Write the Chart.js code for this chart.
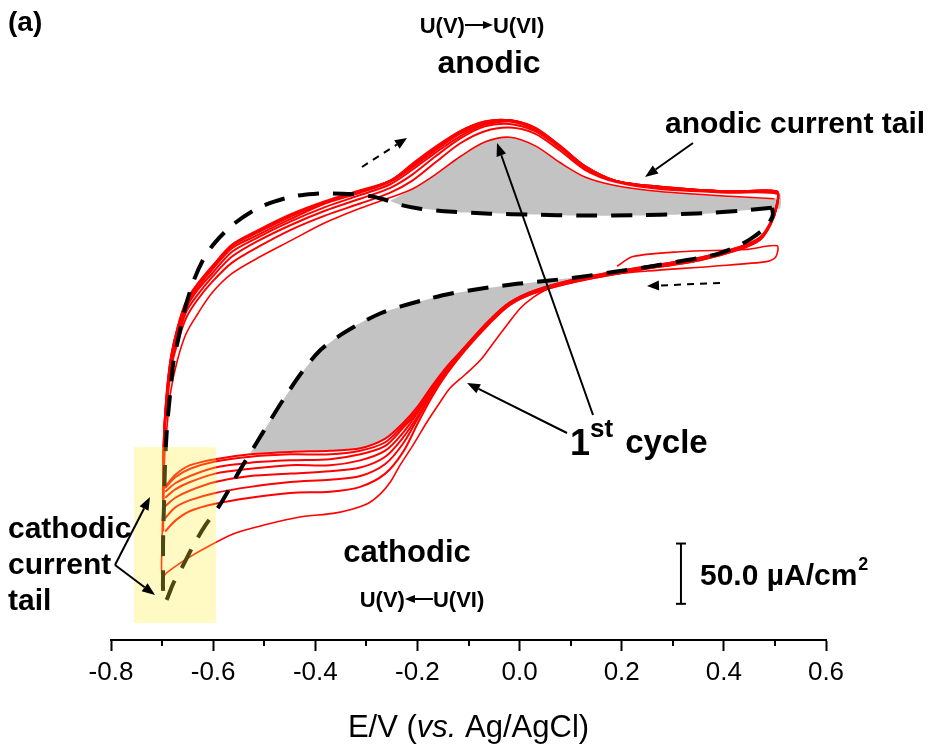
<!DOCTYPE html>
<html>
<head>
<meta charset="utf-8">
<script src="https://cdn.jsdelivr.net/npm/chart.js@4.4.0/dist/chart.umd.min.js"></script>
<style>
  html, body { margin: 0; padding: 0; background: #fff; }
  canvas { display: block; }
</style>
</head>
<body>
<canvas id="cv" width="936" height="746"></canvas>
<script>
// x axis ticks (E/V vs. Ag/AgCl)
const xTicks = [-0.8, -0.6, -0.4, -0.2, 0.0, 0.2, 0.4, 0.6];
const xMinorTicks = [-0.7, -0.5, -0.3, -0.1, 0.1, 0.3, 0.5];

// dashed black CV (E in V, j in uA/cm2)
const dashE = [0.494, 0.432, 0.379, 0.314, 0.236, 0.118, 0.026, -0.058, -0.130, -0.195, -0.234, -0.263, -0.293, -0.326, -0.371, -0.404, -0.439, -0.482, -0.518, -0.561, -0.596, -0.619, -0.639, -0.655, -0.668, -0.678, -0.684, -0.690, -0.694, -0.696, -0.698, -0.698, -0.698, -0.694, -0.678, -0.659, -0.639, -0.616, -0.586, -0.547, -0.514, -0.488, -0.455, -0.424, -0.390, -0.351, -0.312, -0.273, -0.234, -0.185, -0.136, -0.077, -0.005, 0.054, 0.118, 0.183, 0.250, 0.314, 0.379, 0.422, 0.451, 0.475, 0.490, 0.496, 0.494];
const dashJ = [79.5, 77, 75.4, 74.2, 73.4, 73, 73.8, 74.6, 76.2, 78.7, 82, 86.1, 89.3, 90.6, 91.4, 91, 89.3, 84.4, 77.9, 65.6, 50.8, 36.9, 18, -4.1, -28.7, -49.2, -73.8, -100.8, -131.1, -163.9, -196.7, -221.3, -237.7, -247.5, -232, -217.2, -200.8, -184.4, -166.4, -137.7, -114.8, -96.7, -74.6, -55.7, -38.5, -26.2, -16.4, -8.2, -2.5, 3.3, 8.2, 12.3, 16.4, 18.9, 22.1, 26.2, 30.3, 35.2, 40.2, 46.7, 53.3, 60.7, 68, 73.8, 79.5];

// 1st cycle (starts at 0.2 V)
const firstE = [0.191, 0.222, 0.314, 0.445, 0.504, 0.502, 0.486, 0.379, 0.250, 0.157, 0.079, 0.050, 0.026, 0.001, -0.025, -0.052, -0.077, -0.107, -0.136, -0.156, -0.181, -0.208, -0.234, -0.253, -0.273, -0.298, -0.332, -0.365, -0.430, -0.494, -0.561, -0.625, -0.664, -0.690, -0.700, -0.700, -0.698, -0.696, -0.694, -0.690, -0.684, -0.670, -0.653, -0.631, -0.602, -0.563, -0.512, -0.449, -0.381, -0.312, -0.253, -0.210, -0.165, -0.116, -0.068, -0.019, 0.030, 0.079, 0.128, 0.187, 0.275, 0.412, 0.499];
const firstJ = [31, 39, 43, 45, 48, 39, 35, 31, 27, 23, 16, 11, 5, -4, -18, -33, -47, -59, -70, -82, -98, -117, -134, -148, -158, -166, -171, -174, -177, -183, -191, -205, -215, -223, -227, -197, -164, -139, -119, -101, -75, -47, -25, -9, 9, 25, 38, 52, 67, 79, 88, 95, 107, 122, 134, 138, 131, 117, 105, 98, 93, 89, 87];

// later cycles: anodic sweep then cathodic sweep
const anodicE = [-0.698, -0.696, -0.690, -0.682, -0.670, -0.653, -0.631, -0.602, -0.563, -0.512, -0.449, -0.381, -0.312, -0.253, -0.210, -0.165, -0.116, -0.068, -0.019, 0.030, 0.079, 0.128, 0.187, 0.275, 0.412, 0.504];
const cathodicE = [0.504, 0.492, 0.471, 0.431, 0.353, 0.236, 0.118, 0.030, -0.019, -0.062, -0.107, -0.142, -0.171, -0.199, -0.228, -0.263, -0.312, -0.371, -0.449, -0.527, -0.596, -0.645, -0.674, -0.694];

const anodicJ = [
  [-189, -115, -82, -53, -33, -12, 3, 18, 34, 47, 61, 73, 83, 92, 102, 117, 133, 143, 146, 141, 127, 111, 101, 95, 92, 91],
  [-178, -112, -79, -50, -30, -7, 7, 22, 39, 52, 65, 77, 87, 96, 107, 122, 137, 147, 149, 143, 129, 112, 102, 96, 93, 92],
  [-168, -111, -76, -48, -26, -4, 11, 25, 43, 55, 68, 80, 90, 99, 111, 125, 139, 148, 151, 144, 130, 113, 102, 96, 93, 92],
  [-161, -109, -74, -46, -24, -2, 13, 28, 46, 57, 70, 83, 92, 101, 113, 127, 141, 149, 152, 145, 130, 113, 102, 96, 93, 92],
  [-156, -108, -72, -44, -22, 0, 15, 30, 48, 59, 72, 84, 93, 102, 114, 128, 142, 150, 152, 145, 130, 114, 102, 97, 93, 93],
  [-153, -107, -70, -43, -21, 1, 16, 30, 48, 60, 73, 84, 93, 102, 115, 129, 143, 151, 152, 146, 131, 114, 102, 97, 93, 93],
  [-152, -107, -70, -43, -20, 2, 16, 31, 49, 61, 74, 85, 94, 102, 116, 130, 143, 151, 152, 146, 131, 114, 102, 97, 93, 93]
];
const cathodicJ = [
  [81, 66, 53, 45, 36, 28, 19, 9, -1, -18, -39, -58, -77, -99, -123, -141, -152, -156, -157, -161, -166, -172, -180, -189],
  [81, 66, 53, 45, 36, 28, 19, 9, -1, -17, -38, -57, -75, -95, -116, -133, -143, -146, -148, -152, -157, -163, -169, -178],
  [82, 67, 54, 46, 37, 29, 20, 10, 0, -17, -38, -56, -73, -93, -111, -127, -136, -139, -141, -143, -148, -155, -161, -168],
  [82, 67, 54, 46, 37, 29, 20, 10, 0, -16, -37, -55, -71, -90, -107, -122, -130, -134, -134, -137, -141, -148, -154, -161],
  [82, 67, 54, 46, 37, 29, 20, 10, 0, -16, -37, -54, -70, -89, -103, -118, -125, -129, -130, -132, -136, -143, -149, -156],
  [83, 68, 55, 47, 38, 30, 21, 11, 1, -15, -36, -53, -69, -87, -101, -115, -122, -125, -125, -127, -131, -137, -144, -153],
  [83, 68, 55, 47, 38, 30, 21, 11, 1, -15, -36, -52, -68, -85, -99, -112, -120, -122, -123, -125, -129, -134, -142, -152]
];

// shaded areas
const grayAE = [-0.254, -0.210, -0.165, -0.116, -0.068, -0.019, 0.030, 0.079, 0.128, 0.187, 0.275, 0.412, 0.499, 0.510, 0.510, 0.494, 0.432, 0.379, 0.314, 0.236, 0.118, 0.026, -0.058, -0.130, -0.195, -0.234];
const grayAJ = [85, 95, 107, 122, 134, 138, 131, 117, 105, 98, 93, 89, 87, 92, 79, 79, 77, 75, 74, 73, 73, 74, 75, 76, 79, 82];
const grayCE = [-0.527, -0.514, -0.488, -0.455, -0.424, -0.390, -0.351, -0.312, -0.273, -0.234, -0.185, -0.136, -0.077, -0.005, 0.054, 0.118, 0.183, 0.250, 0.314, 0.314, 0.236, 0.118, 0.030, -0.019, -0.062, -0.107, -0.142, -0.171, -0.199, -0.228, -0.263, -0.312, -0.371, -0.449];
const grayCJ = [-124, -115, -97, -75, -56, -39, -26, -16, -8, -3, 3, 8, 12, 16, 19, 22, 26, 30, 35, 34, 29, 20, 10, 0, -16, -37, -52, -68, -85, -99, -112, -120, -122, -123];

// 50 uA/cm2 scale bar
const scaleBarE = [0.316, 0.316];
const scaleBarJ = [-249, -199];

// yellow highlight (cathodic current tail)
const boxE = [-0.755, -0.594];
const boxJ = [-119, -265];

function pts(E, J) {
    return E.map((e, i) => ({ x: e, y: J[i] }));
}

const datasets = [];
datasets.push({ data: pts(dashE, dashJ), borderColor: '#000', borderWidth: 4, borderDash: [21, 14], tension: 0.3, order: 0 });
datasets.push({ data: pts(scaleBarE, scaleBarJ), borderColor: '#000', borderWidth: 2, pointStyle: 'line', pointRadius: 5, pointBorderWidth: 2, pointBorderColor: '#000', order: 1 });
datasets.push({ data: pts(firstE, firstJ), borderColor: '#ff0000', borderWidth: 1.6, tension: 0.3, order: 2 });
anodicJ.forEach((aj, i) => {
    const d = pts(anodicE, aj).concat(pts(cathodicE, cathodicJ[i]));
    datasets.push({ data: d, borderColor: '#ff0000', borderWidth: 2, tension: 0.3, order: 3 });
});
datasets.push({ data: pts(grayAE, grayAJ), borderWidth: 0, borderColor: 'rgba(0,0,0,0)', backgroundColor: '#c3c3c3', fill: 'shape', tension: 0.3, order: 10 });
datasets.push({ data: pts(grayCE, grayCJ), borderWidth: 0, borderColor: 'rgba(0,0,0,0)', backgroundColor: '#c3c3c3', fill: 'shape', tension: 0.3, order: 10 });

const FONT = '"Liberation Sans", Arial, sans-serif';

function arrow(ctx, x1, y1, x2, y2, dashed, head = 13, wid = 5) {
    const a = Math.atan2(y2 - y1, x2 - x1);
    const c = Math.cos(a), s = Math.sin(a);
    ctx.save();
    ctx.strokeStyle = '#000';
    ctx.fillStyle = '#000';
    ctx.lineWidth = 2;
    if (dashed) ctx.setLineDash([7, 6]);
    ctx.beginPath();
    ctx.moveTo(x1, y1);
    ctx.lineTo(x2 - head * c, y2 - head * s);
    ctx.stroke();
    ctx.setLineDash([]);
    ctx.beginPath();
    ctx.moveTo(x2, y2);
    ctx.lineTo(x2 - head * c + wid * s, y2 - head * s - wid * c);
    ctx.lineTo(x2 - head * c - wid * s, y2 - head * s + wid * c);
    ctx.closePath();
    ctx.fill();
    ctx.restore();
}

function redox(ctx, cx, base, toRight) {
    ctx.font = 'bold 22px ' + FONT;
    const a = 'U(V)', b = 'U(VI)', gap = 28;
    const wa = ctx.measureText(a).width, wb = ctx.measureText(b).width;
    const left = cx - (wa + gap + wb) / 2;
    ctx.fillText(a, left, base);
    ctx.fillText(b, left + wa + gap, base);
    const ay = base - 8;
    if (toRight) arrow(ctx, left + wa, ay, left + wa + gap, ay, false, 10, 4);
    else arrow(ctx, left + wa + gap, ay, left + wa, ay, false, 10, 4);
}

const annotate = {
    id: 'annotate',
    afterDatasetsDraw(chart) {
        const { ctx, scales: { x, y } } = chart;
        const x0 = x.getPixelForValue(boxE[0]), x1 = x.getPixelForValue(boxE[1]);
        const y0 = y.getPixelForValue(boxJ[0]), y1 = y.getPixelForValue(boxJ[1]);
        ctx.save();
        ctx.fillStyle = 'rgba(255, 240, 60, 0.3)';
        ctx.fillRect(x0, y0, x1 - x0, y1 - y0);
        ctx.restore();
    },
    afterDraw(chart) {
        const { ctx, chartArea, scales: { x } } = chart;
        ctx.save();
        // minor ticks
        ctx.strokeStyle = '#000';
        ctx.lineWidth = 2;
        xMinorTicks.forEach(v => {
            const p = Math.round(x.getPixelForValue(v));
            ctx.beginPath();
            ctx.moveTo(p, chartArea.bottom);
            ctx.lineTo(p, chartArea.bottom + 6);
            ctx.stroke();
        });

        // axis title with italic "vs."
        const parts = [['E/V (', ''], ['vs.', 'italic '], [' Ag/AgCl)', '']];
        let total = 0;
        parts.forEach(p => { ctx.font = p[1] + '31px ' + FONT; total += ctx.measureText(p[0]).width; });
        let tx = (chartArea.left + chartArea.right) / 2 - total / 2;
        ctx.fillStyle = '#000';
        ctx.textBaseline = 'alphabetic';
        parts.forEach(p => {
            ctx.font = p[1] + '31px ' + FONT;
            ctx.fillText(p[0], tx, 737);
            tx += ctx.measureText(p[0]).width;
        });

        // labels
        ctx.font = 'bold 28px ' + FONT;
        ctx.fillText('(a)', 8, 31);

        redox(ctx, 482, 33, true);
        ctx.textAlign = 'center';
        ctx.font = 'bold 32px ' + FONT;
        ctx.fillText('anodic', 489, 73);
        ctx.font = 'bold 31px ' + FONT;
        ctx.fillText('cathodic', 407, 562);
        ctx.textAlign = 'left';
        redox(ctx, 422, 607, false);

        ctx.font = 'bold 30px ' + FONT;
        ctx.fillText('anodic current tail', 665, 133);
        ctx.fillText('cathodic', 8, 538);
        ctx.fillText('current', 8, 574);
        ctx.fillText('tail', 8, 610);

        // 1st cycle
        ctx.font = 'bold 36px ' + FONT;
        ctx.fillText('1', 570, 455);
        let cx = 570 + ctx.measureText('1').width;
        ctx.font = 'bold 26px ' + FONT;
        ctx.fillText('st', cx, 437);
        cx += ctx.measureText('st').width + 12;
        ctx.font = 'bold 33px ' + FONT;
        ctx.fillText('cycle', cx, 453);

        // scale bar label
        ctx.font = 'bold 30px ' + FONT;
        ctx.fillText('50.0 \u00B5A/cm', 700, 585);
        const w = ctx.measureText('50.0 \u00B5A/cm').width;
        ctx.font = 'bold 18px ' + FONT;
        ctx.fillText('2', 700 + w + 1, 570);

        // arrows
        arrow(ctx, 693, 143, 645, 177, false);
        arrow(ctx, 593, 415, 497, 143, false);
        arrow(ctx, 567, 433, 467, 383, false);
        arrow(ctx, 115, 565, 150, 497, false);
        arrow(ctx, 115, 565, 155, 595, false);
        arrow(ctx, 362, 167, 407, 138, true, 12, 5);
        arrow(ctx, 720, 283, 647, 286, true, 12, 5);
        ctx.restore();
    }
};

new Chart(document.getElementById('cv'), {
    type: 'line',
    data: { datasets: datasets },
    options: {
        responsive: false,
        animation: false,
        devicePixelRatio: 1,
        layout: { padding: { left: 111, right: 110, top: 0, bottom: 0 } },
        elements: { point: { radius: 0 } },
        plugins: { legend: { display: false }, tooltip: { enabled: false } },
        scales: {
            x: {
                type: 'linear',
                min: -0.8,
                max: 0.6,
                afterBuildTicks: s => { s.ticks = xTicks.map(v => ({ value: v })); },
                afterFit: s => { s.height = 106; },
                grid: { display: true, drawOnChartArea: false, drawTicks: true, tickLength: 11, tickWidth: 2, tickColor: '#000' },
                border: { display: true, color: '#000', width: 2 },
                ticks: {
                    color: '#000',
                    padding: 6,
                    maxRotation: 0,
                    autoSkip: false,
                    font: { family: FONT, size: 26 },
                    callback: v => v.toFixed(1)
                }
            },
            y: { display: false, min: -279, max: 246 }
        }
    },
    plugins: [annotate]
});
</script>
</body>
</html>
